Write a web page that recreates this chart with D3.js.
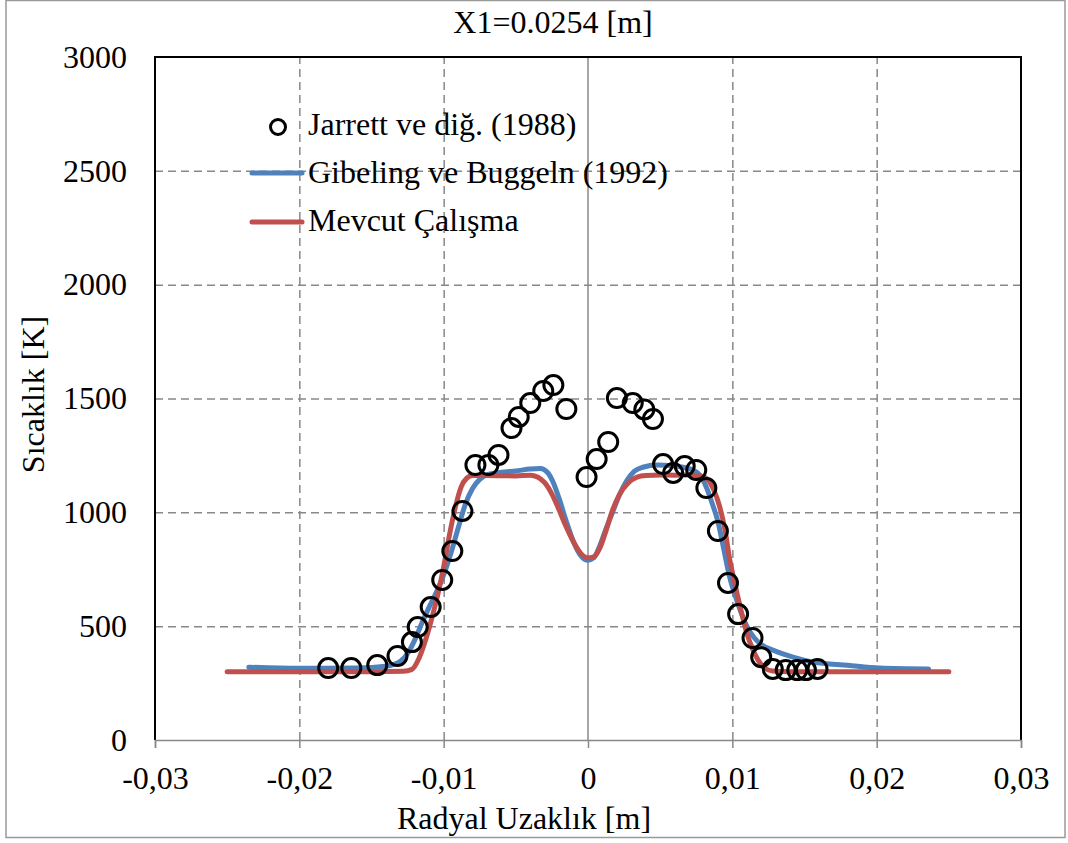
<html>
<head>
  <script src="https://d3js.org/d3.v7.min.js"></script>
  <style>
    body { margin: 0; background: #fff; }
    text { font-family: "Liberation Serif", "Times New Roman", serif; fill: #000; }
    .gridlines line { stroke: #888; stroke-width: 1.5; stroke-dasharray: 8,5; }
    .gridlines .domain { stroke: none; }
  </style>
</head>
<body>
<svg id="chart" width="1068" height="843"></svg>

<script>
  // Jarrett ve dig. (1988) measured points
  const jarrettX = [-0.0180, -0.0164, -0.0146, -0.0132, -0.0122, -0.0118, -0.0109, -0.0101, -0.0094, -0.0087,
                    -0.0078, -0.0069, -0.0062, -0.0053, -0.0048, -0.0040, -0.0031, -0.0024, -0.0015,
                    -0.0001, 0.0006, 0.0014, 0.0020, 0.0031, 0.0039, 0.0045,
                    0.0052, 0.0059, 0.0067, 0.0075, 0.0082, 0.0090, 0.0097, 0.0104, 0.0114, 0.0120,
                    0.0128, 0.0137, 0.0145, 0.0151, 0.0159];
  const jarrettT = [316, 316, 329, 369, 430, 496, 584, 703, 830, 1006,
                    1208, 1208, 1252, 1370, 1419, 1480, 1533, 1559, 1454,
                    1155, 1234, 1309, 1502, 1480, 1452, 1410,
                    1212, 1173, 1203, 1186, 1107, 918, 690, 553, 448, 364,
                    312, 307, 307, 307, 312];

  // Gibeling ve Buggeln (1992)
  const gibelingX = [-0.0235, -0.020, -0.016, -0.014, -0.013, -0.0125, -0.012, -0.0115, -0.011, -0.0105, -0.010,
                     -0.0095, -0.009, -0.0085, -0.008, -0.0075, -0.007, -0.006, -0.005, -0.004, -0.0033,
                     -0.0028, -0.0024, -0.002, -0.0015, -0.001, -0.0005, 0, 0.0004, 0.0008, 0.0012, 0.0017,
                     0.0022, 0.0027, 0.0032, 0.0038, 0.0048, 0.0058, 0.0066, 0.0073, 0.0078, 0.0082, 0.0086,
                     0.009, 0.0094, 0.0098, 0.0103, 0.011, 0.0115, 0.012, 0.0128, 0.0142, 0.0156, 0.018,
                     0.0202, 0.0236];
  const gibelingT = [320, 315, 316, 324, 345, 380, 440, 515, 585, 650, 725,
                     820, 930, 1035, 1105, 1145, 1165, 1176, 1182, 1190, 1192,
                     1175, 1130, 1060, 960, 870, 810, 790, 800, 850, 920, 1000,
                     1080, 1140, 1180, 1198, 1208, 1205, 1198, 1185, 1160, 1110, 1040,
                     960, 840, 720, 615, 500, 450, 420, 395, 364, 342, 328,
                     316, 312];

  // Mevcut Calisma
  const mevcutX = [-0.025, -0.015, -0.0128, -0.0122, -0.0117, -0.0112, -0.0108, -0.0104, -0.010, -0.0096,
                   -0.0092, -0.0088, -0.0084, -0.008, -0.007, -0.005, -0.004, -0.0035, -0.003, -0.0025,
                   -0.002, -0.0015, -0.001, -0.0005, 0, 0.0004, 0.0008, 0.0012, 0.0017, 0.0022, 0.0028,
                   0.0034, 0.004, 0.005, 0.006, 0.007, 0.0078, 0.0083, 0.0087, 0.0091, 0.0095, 0.0098,
                   0.0102, 0.0106, 0.011, 0.0114, 0.0118, 0.0122, 0.0128, 0.014, 0.025];
  const mevcutT = [300, 300, 302, 310, 360, 450, 540, 640, 760, 900,
                   1020, 1110, 1150, 1162, 1162, 1160, 1163, 1155, 1130, 1080,
                   1010, 935, 870, 820, 800, 805, 840, 910, 1010, 1080, 1130,
                   1155, 1162, 1164, 1163, 1164, 1160, 1145, 1100, 1030, 920, 800,
                   680, 570, 470, 400, 350, 318, 303, 300, 300];

  const xTicks = [-0.03, -0.02, -0.01, 0, 0.01, 0.02, 0.03];
  const yTicks = [0, 500, 1000, 1500, 2000, 2500, 3000];
  const legendLabels = ["Jarrett ve diğ. (1988)", "Gibeling ve Buggeln (1992)", "Mevcut Çalışma"];

  const svg = d3.select("svg#chart");
  const margin = {top: 57, right: 47, bottom: 103, left: 155};
  const width = 1068, height = 843;
  const chartWidth = width - margin.left - margin.right;
  const chartHeight = height - margin.top - margin.bottom;
  const fontSize = 32;

  const xScale = d3.scaleLinear().domain([-0.03, 0.03]).range([margin.left, margin.left + chartWidth]);
  const yScale = d3.scaleLinear().domain([0, 3000]).range([margin.top + chartHeight, margin.top]);

  // outer chart border
  svg.append("rect")
    .attr("x", 6).attr("y", 0.5).attr("width", 1059).attr("height", 837)
    .attr("fill", "#fff").attr("stroke", "#999").attr("stroke-width", 1.5);

  // gridlines
  svg.append("g")
    .attr("class", "gridlines")
    .attr("transform", "translate(" + margin.left + ",0)")
    .call(d3.axisLeft(yScale).tickValues([500, 1000, 1500, 2000, 2500]).tickSize(-chartWidth).tickFormat(""));
  svg.append("g")
    .attr("class", "gridlines")
    .attr("transform", "translate(0," + (margin.top + chartHeight) + ")")
    .call(d3.axisBottom(xScale).tickValues([-0.02, -0.01, 0.01, 0.02]).tickSize(-chartHeight).tickFormat(""));

  // vertical line at x = 0
  svg.append("line")
    .attr("x1", xScale(0)).attr("x2", xScale(0))
    .attr("y1", yScale(3000)).attr("y2", yScale(0))
    .attr("stroke", "#888").attr("stroke-width", 1.5);

  // plot frame: black left, top, right
  svg.append("path")
    .attr("d", "M" + xScale(-0.03) + "," + yScale(0) + "V" + yScale(3000) + "H" + xScale(0.03) + "V" + yScale(0))
    .attr("fill", "none").attr("stroke", "#000").attr("stroke-width", 2);

  // x axis
  const fmt = d => d === 0 ? "0" : d3.format(".2f")(d).replace(".", ",").replace("−", "-");
  const xAxis = svg.append("g")
    .attr("transform", "translate(0," + (margin.top + chartHeight) + ")")
    .call(d3.axisBottom(xScale).tickValues(xTicks).tickSize(8).tickPadding(18).tickFormat(fmt));
  xAxis.select(".domain").attr("stroke", "#888").attr("stroke-width", 1.5);
  xAxis.selectAll(".tick line").attr("stroke", "#888").attr("stroke-width", 1.5);
  xAxis.selectAll("text").style("font-size", fontSize + "px").style("font-family", "Liberation Serif").attr("fill", "#000");

  // y axis
  const yAxis = svg.append("g")
    .attr("transform", "translate(" + margin.left + ",0)")
    .call(d3.axisLeft(yScale).tickValues(yTicks).tickSize(0).tickPadding(28).tickFormat(d3.format("d")));
  yAxis.select(".domain").remove();
  yAxis.selectAll("text").style("font-size", fontSize + "px").style("font-family", "Liberation Serif").attr("fill", "#000");

  // lines
  const line = d3.line().x(d => xScale(d[0])).y(d => yScale(d[1])).curve(d3.curveMonotoneX);
  const gibeling = gibelingX.map((x, i) => [x, gibelingT[i]]);
  const mevcut = mevcutX.map((x, i) => [x, mevcutT[i]]);

  svg.append("path").datum(gibeling)
    .attr("d", line).attr("fill", "none").attr("stroke", "#4F81BD")
    .attr("stroke-width", 5).attr("stroke-linecap", "round").attr("stroke-linejoin", "round");
  svg.append("path").datum(mevcut)
    .attr("d", line).attr("fill", "none").attr("stroke", "#C0504D")
    .attr("stroke-width", 5).attr("stroke-linecap", "round").attr("stroke-linejoin", "round");

  // measured points
  svg.selectAll("circle.datapoint").data(jarrettX)
    .join("circle")
    .attr("class", "datapoint")
    .attr("cx", d => xScale(d))
    .attr("cy", (d, i) => yScale(jarrettT[i]))
    .attr("r", 9.5)
    .attr("fill", "none")
    .attr("stroke", "#000")
    .attr("stroke-width", 3);

  // legend
  const legend = svg.append("g");
  legend.append("circle").attr("cx", 278).attr("cy", 127).attr("r", 7.5)
    .attr("fill", "none").attr("stroke", "#000").attr("stroke-width", 3);
  legend.append("line").attr("x1", 252).attr("x2", 302).attr("y1", 173).attr("y2", 173)
    .attr("stroke", "#4F81BD").attr("stroke-width", 5).attr("stroke-linecap", "round");
  legend.append("line").attr("x1", 252).attr("x2", 302).attr("y1", 222).attr("y2", 222)
    .attr("stroke", "#C0504D").attr("stroke-width", 5).attr("stroke-linecap", "round");
  legend.selectAll("text").data(legendLabels)
    .join("text")
    .attr("x", 308)
    .attr("y", (d, i) => [135, 183, 231][i])
    .attr("font-size", fontSize)
    .text(d => d);

  // titles
  svg.append("text").attr("x", 553).attr("y", 33).attr("text-anchor", "middle")
    .attr("font-size", fontSize).text("X1=0.0254 [m]");
  svg.append("text").attr("x", 524).attr("y", 829).attr("text-anchor", "middle")
    .attr("font-size", fontSize).text("Radyal Uzaklık [m]");
  svg.append("text").attr("transform", "translate(44," + ((margin.top + margin.top + chartHeight) / 2 - 4) + ") rotate(-90)")
    .attr("text-anchor", "middle").attr("font-size", fontSize).text("Sıcaklık [K]");
</script>
</body>
</html>
